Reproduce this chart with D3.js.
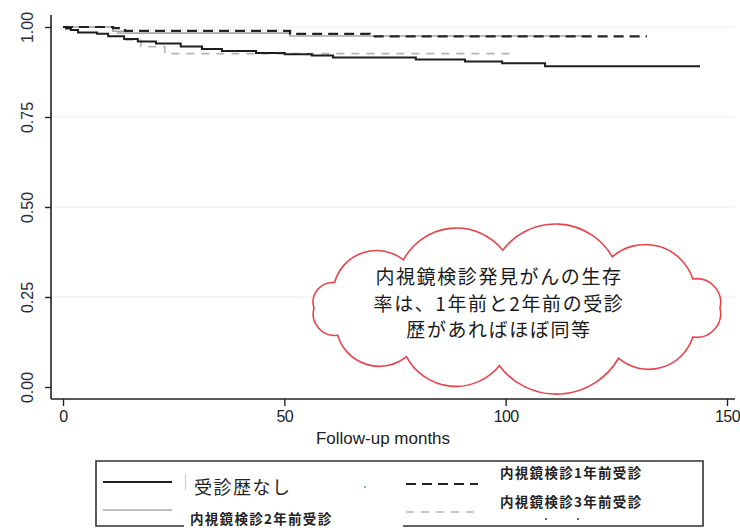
<!DOCTYPE html>
<html>
<head>
<meta charset="utf-8">
<script src="https://cdn.jsdelivr.net/npm/d3@7"></script>
<style>
  html, body { margin: 0; padding: 0; background: #fff; }
  svg { display: block; }
</style>
</head>
<body>
<svg id="chart" width="740" height="528"></svg>
<script>
// Kaplan-Meier survival estimates (step functions): month of each step and survival after it
const monthsNone  = [0, 0.7, 1.8, 3.4, 7.7, 10.2, 13.8, 16.9, 21.0, 26.6, 31.4, 35.9, 43.6, 50.1, 56.2, 61.0, 79.7, 90.8, 99.2, 108.9, 143.9];
const survNone    = [1.000, 0.996, 0.992, 0.985, 0.981, 0.974, 0.967, 0.960, 0.954, 0.946, 0.939, 0.933, 0.928, 0.924, 0.921, 0.915, 0.910, 0.904, 0.899, 0.891, 0.891];

const months1yr   = [0, 11.3, 14.0, 51.3, 69.3, 131.9];
const surv1yr     = [1.000, 0.997, 0.989, 0.981, 0.974, 0.974];

const months2yr   = [0, 11.3, 14.2, 51.3, 119.0];
const surv2yr     = [1.000, 0.988, 0.983, 0.975, 0.975];

const months3yr   = [0, 11.3, 14.2, 17.6, 23.0, 102.1];
const surv3yr     = [1.000, 0.983, 0.964, 0.945, 0.926, 0.926];

const xTicks = [0, 50, 100, 150];
const yTicks = [0, 0.25, 0.5, 0.75, 1];
const xTitle = "Follow-up months";

const legendNone = "受診歴なし";
const legend1yr  = "内視鏡検診1年前受診";
const legend2yr  = "内視鏡検診2年前受診";
const legend3yr  = "内視鏡検診3年前受診";

const noteLines = ["内視鏡検診発見がんの生存", "率は、1年前と2年前の受診", "歴があればほぼ同等"];

const svg = d3.select("#chart");
const x = d3.scaleLinear().domain([0, 150]).range([63, 727]);
const y = d3.scaleLinear().domain([0, 1]).range([387, 27]);

const latin = "'Liberation Sans Narrow', 'Liberation Sans', Arial, sans-serif";
const cjk = "'Noto Sans CJK JP', 'Noto Sans CJK SC', sans-serif";

// faint horizontal grid
svg.append("g").selectAll("line")
  .data(yTicks.filter(d => d > 0))
  .join("line")
  .attr("x1", 52).attr("x2", 735)
  .attr("y1", d => y(d)).attr("y2", d => y(d))
  .attr("stroke", "#e8efef").attr("stroke-width", 1);

// y axis
const yAxis = svg.append("g").attr("transform", "translate(51,0)")
  .call(d3.axisLeft(y).tickValues(yTicks).tickFormat(d3.format(".2f")).tickSize(6).tickSizeOuter(0));
yAxis.select(".domain").attr("d", "M0,15V399").attr("stroke", "#222").attr("stroke-width", 1.6);
yAxis.selectAll(".tick line").attr("stroke", "#222").attr("stroke-width", 1.4);
yAxis.selectAll(".tick text")
  .attr("transform", "rotate(-90)")
  .attr("x", 0).attr("y", -24).attr("dy", "0.35em")
  .attr("text-anchor", "middle")
  .attr("font-family", "'Liberation Sans', Arial, sans-serif")
  .attr("font-size", 16).attr("fill", "#2a2a3a");

// x axis
const xAxis = svg.append("g").attr("transform", "translate(0,399)")
  .call(d3.axisBottom(x).tickValues(xTicks).tickFormat(d3.format("d")).tickSize(7).tickSizeOuter(0));
xAxis.select(".domain").attr("d", "M51,0H735").attr("stroke", "#222").attr("stroke-width", 1.6);
xAxis.selectAll(".tick line").attr("stroke", "#222").attr("stroke-width", 1.4);
xAxis.selectAll(".tick text")
  .attr("y", 17).attr("dy", "0.35em")
  .attr("font-family", latin).attr("font-size", 16).attr("letter-spacing", -0.6)
  .attr("fill", "#222");

svg.append("text")
  .attr("x", 383).attr("y", 444)
  .attr("text-anchor", "middle")
  .attr("font-family", latin).attr("font-size", 17).attr("fill", "#222")
  .text(xTitle);

// survival curves
const step = d3.line().x(d => x(d[0])).y(d => y(d[1])).curve(d3.curveStepAfter);
const series = [
  { months: months3yr,  surv: surv3yr,  color: "#b4b4b4", width: 1.6, dash: "8,7" },
  { months: months2yr,  surv: surv2yr,  color: "#a8a8a8", width: 1.6, dash: null },
  { months: months1yr,  surv: surv1yr,  color: "#222",    width: 2.2, dash: "10,6" },
  { months: monthsNone, surv: survNone, color: "#1e1e1e", width: 2.0, dash: null }
];
svg.append("g").selectAll("path")
  .data(series)
  .join("path")
  .attr("d", s => step(s.months.map((m, i) => [m, s.surv[i]])))
  .attr("fill", "none")
  .attr("stroke", s => s.color)
  .attr("stroke-width", s => s.width)
  .attr("stroke-dasharray", s => s.dash);

// callout cloud
const cloud = svg.append("g");
const cx = 517, cy = 308, rx = 203, ry = 58;
const angles = [0, 30, 60, 95, 123, 152, 180, 206, 236, 266, 298, 330];
const pts = angles.map(a => {
  const t = a * Math.PI / 180;
  return [cx + rx * Math.cos(t), cy + ry * Math.sin(t)];
});
let cloudPath = `M${pts[0][0]},${pts[0][1]}`;
pts.forEach((p, i) => {
  const q = pts[(i + 1) % pts.length];
  const c = Math.hypot(q[0] - p[0], q[1] - p[1]);
  const r = c * 0.6;
  cloudPath += `A${r},${r} 0 0 1 ${q[0]},${q[1]}`;
});
cloud.append("path")
  .attr("d", cloudPath + "Z")
  .attr("fill", "#fff")
  .attr("stroke", "#e8434b")
  .attr("stroke-width", 1.6);
cloud.selectAll("text")
  .data(noteLines)
  .join("text")
  .attr("x", 499)
  .attr("y", (d, i) => 284 + i * 26.5)
  .attr("text-anchor", "middle")
  .attr("font-family", cjk)
  .attr("font-size", 19)
  .attr("letter-spacing", 1.6)
  .attr("fill", "#1a1a1a")
  .text(d => d);

// legend
const lg = svg.append("g");
lg.append("path")
  .attr("d", "M184,526H96V461H703V526H403")
  .attr("fill", "none").attr("stroke", "#333").attr("stroke-width", 1.6);

const legendItems = [
  { x1: 103, x2: 172, ly: 482, color: "#1e1e1e", width: 2.0, dash: null },
  { x1: 103, x2: 172, ly: 510, color: "#a8a8a8", width: 1.6, dash: null },
  { x1: 406, x2: 478, ly: 484, color: "#222",    width: 2.2, dash: "10,6" },
  { x1: 406, x2: 478, ly: 512, color: "#b4b4b4", width: 1.6, dash: "8,7" }
];
lg.selectAll("line.key")
  .data(legendItems)
  .join("line")
  .attr("class", "key")
  .attr("x1", d => d.x1).attr("x2", d => d.x2)
  .attr("y1", d => d.ly).attr("y2", d => d.ly)
  .attr("stroke", d => d.color).attr("stroke-width", d => d.width)
  .attr("stroke-dasharray", d => d.dash);

lg.append("line")
  .attr("x1", 185.5).attr("x2", 185.5).attr("y1", 474).attr("y2", 490)
  .attr("stroke", "#f2c58a").attr("stroke-width", 1.2);
lg.append("circle").attr("cx", 365).attr("cy", 487).attr("r", 0.9).attr("fill", "#4a8ac8");

lg.append("text")
  .attr("x", 194).attr("y", 494)
  .attr("font-family", cjk).attr("font-size", 18).attr("letter-spacing", 1.5)
  .attr("fill", "#222").text(legendNone);

const smallLabels = [
  { text: legend2yr, lx: 190, ly: 524 },
  { text: legend1yr, lx: 500, ly: 478 },
  { text: legend3yr, lx: 500, ly: 507 }
];
lg.selectAll("text.small")
  .data(smallLabels)
  .join("text")
  .attr("class", "small")
  .attr("x", d => d.lx).attr("y", d => d.ly)
  .attr("font-family", cjk).attr("font-size", 13.5).attr("font-weight", "bold")
  .attr("letter-spacing", 1.3)
  .attr("fill", "#222").text(d => d.text);

lg.selectAll("circle.dot")
  .data([546, 578])
  .join("circle")
  .attr("class", "dot")
  .attr("cx", d => d).attr("cy", 519).attr("r", 1)
  .attr("fill", "#333");
</script>
</body>
</html>
